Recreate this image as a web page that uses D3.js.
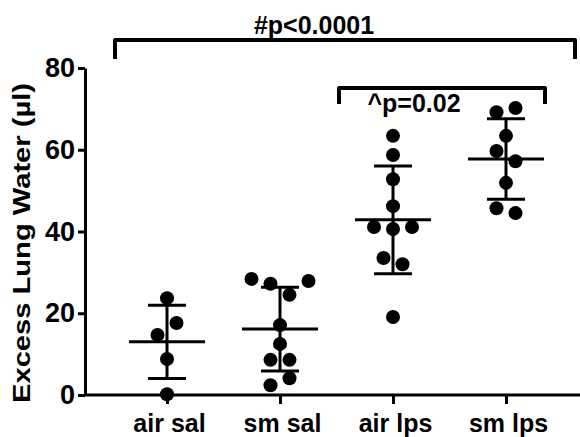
<!DOCTYPE html>
<html>
<head>
<meta charset="utf-8">
<script src="https://cdn.jsdelivr.net/npm/d3@7"></script>
<style>
  body { margin: 0; background: #fff; }
  text { font-family: "Liberation Sans", Arial, sans-serif; font-weight: bold; fill: #000; }
</style>
</head>
<body>
<div id="chart"></div>
<script>
// group names and the measured values (µl), listed top to bottom, left to right
const categories = ["air sal", "sm sal", "air lps", "sm lps"];
const airSal = [23.7, 14.7, 17.6, 8.8, 0.2];
const smSal = [28.4, 27.2, 24.5, 27.9, 17.1, 12.5, 8.6, 8.6, 2.4, 4.1];
const airLps = [63.4, 58.7, 52.8, 46.2, 41.1, 40.6, 41.1, 33.5, 32.0, 19.1];
const smLps = [69.2, 70.2, 63.4, 59.7, 57.2, 51.9, 45.7, 44.5];
const yTicks = [0, 20, 40, 60, 80];
const yTitle = "Excess Lung Water (µl)";
const topNote = "#p<0.0001";
const innerNote = "^p=0.02";

const groups = [airSal, smSal, airLps, smLps];
const width = 580, height = 437;

const svg = d3.select("#chart").append("svg")
    .attr("width", width)
    .attr("height", height);

const x = d3.scalePoint().domain(categories).range([167, 506]);
const y = d3.scaleLinear().domain([0, 80]).range([395, 68]);

// x axis (line runs past the last group to the right edge)
svg.append("line")
    .attr("x1", 85).attr("x2", 580)
    .attr("y1", y(0)).attr("y2", y(0))
    .attr("stroke", "#000").attr("stroke-width", 3);

const xAxis = svg.append("g")
    .attr("transform", "translate(0," + y(0) + ")")
    .call(d3.axisBottom(x).tickSize(9).tickPadding(10));
xAxis.select(".domain").remove();
xAxis.selectAll("line").attr("stroke-width", 3);
xAxis.selectAll("text").style("font-size", "25px").attr("dx", "2");

// y axis
const yAxis = svg.append("g")
    .attr("transform", "translate(85,0)")
    .call(d3.axisLeft(y).tickValues(yTicks).tickSize(7).tickSizeOuter(0).tickPadding(3));
yAxis.select(".domain").attr("stroke-width", 3);
yAxis.selectAll("line").attr("stroke-width", 3);
yAxis.selectAll("text").style("font-size", "27px");

svg.append("text")
    .attr("transform", "translate(30,243) rotate(-90)")
    .attr("text-anchor", "middle")
    .style("font-size", "23px")
    .attr("textLength", 320)
    .attr("lengthAdjust", "spacingAndGlyphs")
    .text(yTitle);

// scatter layout: points closer than 14px vertically share a row and are spread sideways
function spread(values) {
    const order = d3.range(values.length).sort((a, b) => y(values[a]) - y(values[b]) || a - b);
    const rows = [];
    let prev = null;
    order.forEach(i => {
        const py = y(values[i]);
        if (prev === null || py - prev >= 14) rows.push([]);
        rows[rows.length - 1].push(i);
        prev = py;
    });
    const off = new Array(values.length).fill(0);
    rows.forEach(r => {
        r.sort((a, b) => a - b);
        r.forEach((i, k) => off[i] = (k - (r.length - 1) / 2) * 19);
    });
    return off;
}

groups.forEach((vals, gi) => {
    const cx = x(categories[gi]);
    const m = d3.mean(vals), sd = d3.deviation(vals);
    const off = spread(vals);
    const g = svg.append("g");

    g.selectAll("circle")
        .data(vals)
        .enter().append("circle")
        .attr("cx", (d, i) => cx + off[i])
        .attr("cy", d => y(d))
        .attr("r", 7)
        .attr("fill", "#000");

    // mean and SD
    g.append("line")
        .attr("x1", cx).attr("x2", cx)
        .attr("y1", y(m + sd)).attr("y2", y(m - sd))
        .attr("stroke", "#000").attr("stroke-width", 3);
    g.append("line")
        .attr("x1", cx - 38).attr("x2", cx + 38)
        .attr("y1", y(m)).attr("y2", y(m))
        .attr("stroke", "#000").attr("stroke-width", 3);
    [m + sd, m - sd].forEach(v => {
        g.append("line")
            .attr("x1", cx - 19).attr("x2", cx + 19)
            .attr("y1", y(v)).attr("y2", y(v))
            .attr("stroke", "#000").attr("stroke-width", 3);
    });
});

// significance brackets
function bracket(x1, x2, top, bottom) {
    svg.append("path")
        .attr("d", "M" + x1 + "," + bottom + "V" + top + "H" + x2 + "V" + bottom)
        .attr("fill", "none")
        .attr("stroke", "#000")
        .attr("stroke-width", 4)
        .attr("stroke-linejoin", "round");
}

bracket(x(categories[0]) - 52, x(categories[3]) + 69, 40, 59);
svg.append("text")
    .attr("x", 314).attr("y", 34)
    .attr("text-anchor", "middle")
    .style("font-size", "25px")
    .text(topNote);

bracket(x(categories[2]) - 54, x(categories[3]) + 39, 88, 104);
svg.append("text")
    .attr("x", 414).attr("y", 112)
    .attr("text-anchor", "middle")
    .style("font-size", "25px")
    .text(innerNote);
</script>
</body>
</html>
